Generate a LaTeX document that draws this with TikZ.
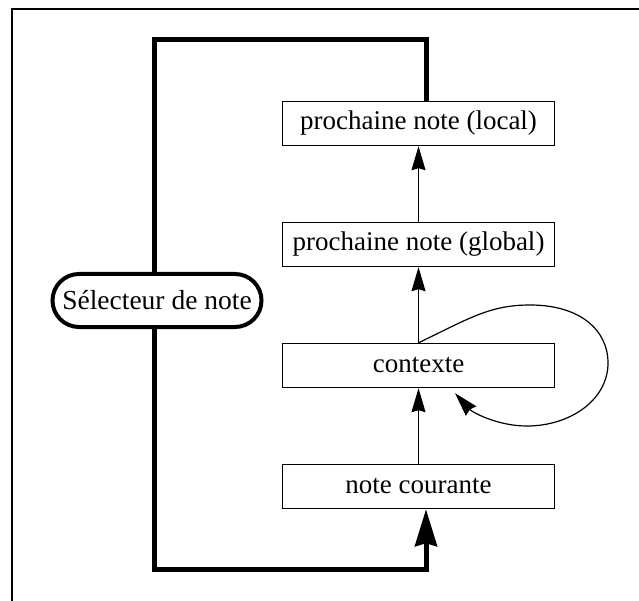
\documentclass[tikz,border=0pt]{standalone}
\usepackage{fontspec}
\setmainfont{Liberation Serif}
\usetikzlibrary{arrows.meta,calc}
\begin{document}
\begin{tikzpicture}[x=1pt,y=-1pt,
  box/.style={draw,line width=1.4pt,minimum width=272pt,minimum height=44pt,inner sep=0pt,font=\fontsize{27}{32}\selectfont},
  selbox/.style={draw,line width=4pt,minimum width=209pt,minimum height=53pt,rounded corners=26.5pt,inner sep=0pt,font=\fontsize{27.5}{32}\selectfont},
  thinarrow/.style={line width=1.2pt,-{Stealth[length=24pt,width=14pt,inset=2pt]}},
  loopline/.style={line width=5pt},
  border/.style={line width=2.5pt}]
\useasboundingbox (0,0) rectangle (639,601);
\coordinate (bl) at (12,601);
\coordinate (tl) at (12,9);
\coordinate (tr) at (639,9);
\draw[border] (bl) -- (tl) -- (tr);

\node[box] (local) at (418.5,123.5) {prochaine note (local)};
\node[box] (global) at (418.5,244.5) {prochaine note (global)};
\node[box] (ctx) at (418.5,365.5) {contexte};
\node[box] (cur) at (418.5,486.5) {note courante};
\node[selbox] (sel) at (157,300.5) {Sélecteur de note};

\draw[thinarrow] (global.north) -- (local.south);
\draw[thinarrow] (ctx.north) -- (global.south);
\draw[thinarrow] (cur.north) -- (ctx.south);

\coordinate (lend) at ($(ctx.south)+(36.5,5)$);
\draw[thinarrow] (ctx.north) .. controls (470,318) and (490,305) .. (530,305)
  .. controls (580,305) and (608,330) .. (608,363)
  .. controls (608,400) and (570,426) .. (527,426)
  .. controls (497,426) and (472,412) .. (lend);

\coordinate (ltop) at (154,40);
\coordinate (rtop) at (426,40);
\coordinate (lbot) at (154,569);
\coordinate (rbot) at (426,569);
\draw[loopline,line join=miter] ($(sel.north)+(-3,0)$) -- (ltop) -- (rtop) -- (rtop |- local.north);
\draw[loopline,line join=miter,-{Stealth[length=37pt,width=22pt,inset=3pt]}] ($(sel.south)+(-3,0)$) -- (lbot) -- (rbot) -- (rbot |- cur.south);
\end{tikzpicture}
\end{document}
